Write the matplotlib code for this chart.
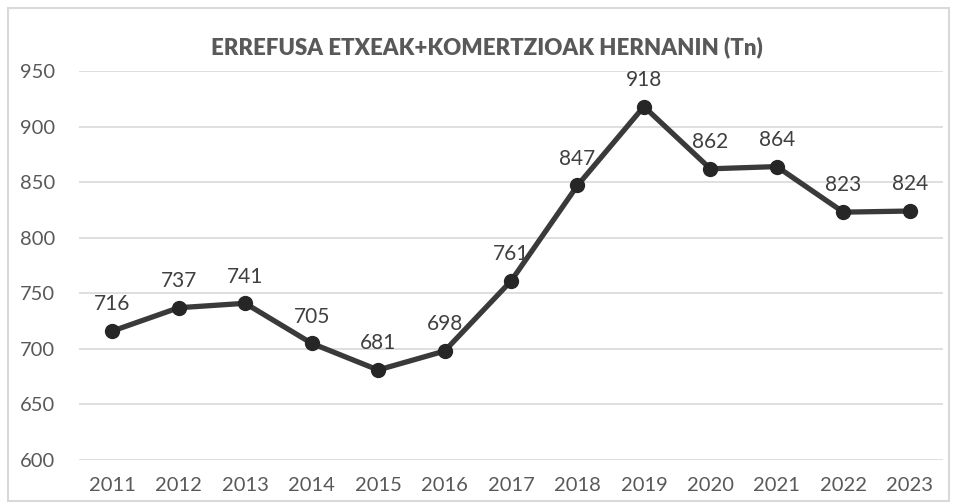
import matplotlib
matplotlib.use("Agg")
import matplotlib.pyplot as plt
from matplotlib.patches import Rectangle

years = ["2011", "2012", "2013", "2014", "2015", "2016", "2017", "2018",
         "2019", "2020", "2021", "2022", "2023"]
values = [716, 737, 741, 705, 681, 698, 761, 847, 918, 862, 864, 823, 824]
yticks = [600, 650, 700, 750, 800, 850, 900, 950]
title = "ERREFUSA ETXEAK+KOMERTZIOAK HERNANIN (Tn)"

plt.rcParams['font.family'] = ['Lato', 'DejaVu Sans']

W, H = 955, 503
fig = plt.figure(figsize=(W / 100, H / 100), dpi=100)
fig.patches.append(Rectangle((8 / W, 2 / H), (W - 14) / W, (H - 10) / H,
                             transform=fig.transFigure, fill=False,
                             edgecolor="#d9d9d9", linewidth=1.5))
left, right, top, bottom = 79, 943, 71, 460
ax = fig.add_axes([left / W, 1 - bottom / H, (right - left) / W, (bottom - top) / H])

x = list(range(len(years)))
ax.plot(x, values, color="#3a3a3a", linewidth=3.8, marker="o", markersize=10,
        markerfacecolor="#262626", markeredgecolor="#262626", zorder=3)
for xi, v in zip(x, values):
    ax.annotate(str(v), (xi, v), xytext=(0, 12), textcoords="offset points",
                ha="center", va="bottom", fontsize=15, color="#404040")

ax.set_xlim(-0.5, len(years) - 0.5)
ax.set_ylim(600, 950)
ax.set_yticks(yticks)
ax.set_xticks(x)
ax.set_xticklabels(years)
ax.grid(axis="y", color="#d9d9d9", linewidth=1.2)
ax.set_axisbelow(True)
for s in ax.spines.values():
    s.set_visible(False)
ax.tick_params(axis="both", length=0, labelsize=14.5, colors="#595959")
ax.tick_params(axis="y", pad=17)
ax.tick_params(axis="x", pad=12)
fig.text(487 / W, 1 - 47 / H, title, ha="center", va="center",
         fontsize=16, fontweight="heavy", color="#595959")
fig.savefig("out.png", dpi=100)
